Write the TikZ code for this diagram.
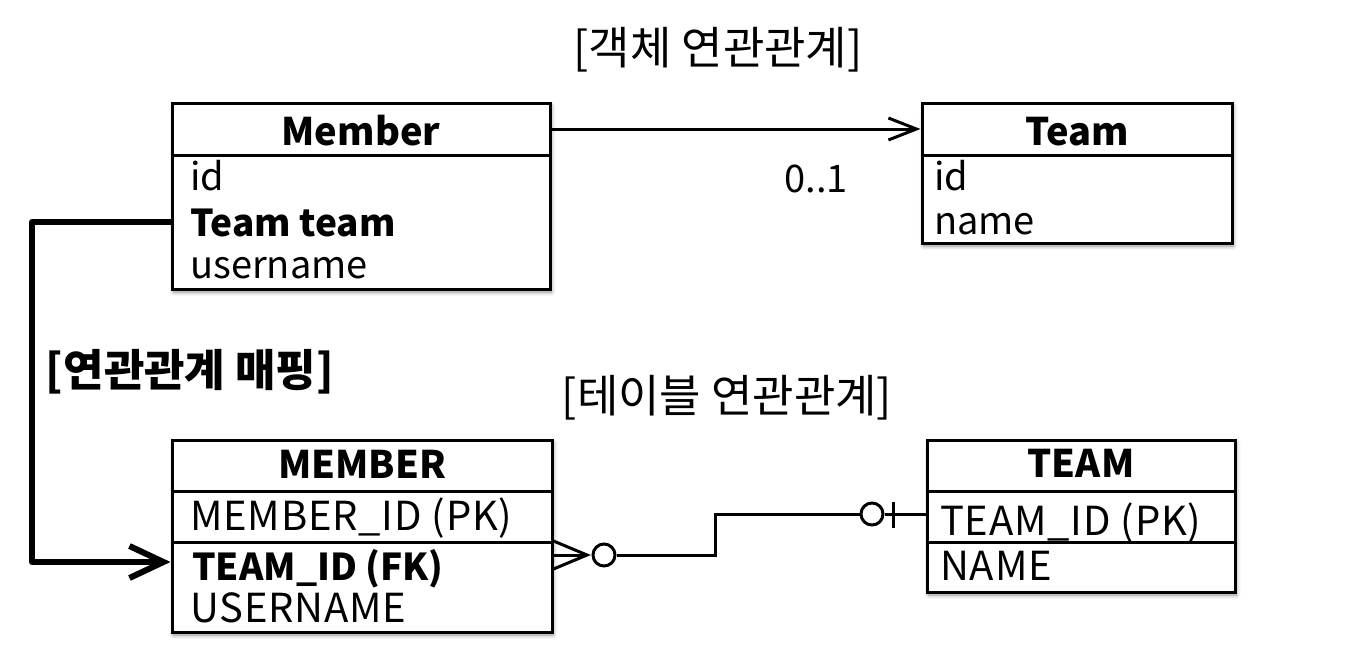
\documentclass[tikz,border=0pt]{standalone}
\usepackage{fontspec}
\setmainfont{Noto Sans CJK KR}
\usetikzlibrary{arrows.meta,shadows.blur}
\tikzset{
  entity/.style={draw, line width=3pt, fill=white, inner sep=0pt,
    blur shadow={shadow xshift=1.5pt, shadow yshift=-3pt, shadow blur radius=4pt, shadow opacity=45}},
  divider/.style={line width=3pt},
  headtext/.style={font=\bfseries\fontsize{38}{38}\selectfont, anchor=base, inner sep=0pt},
  attrtext/.style={font=\fontsize{38}{38}\selectfont, anchor=base west, inner sep=0pt},
  keytext/.style={attrtext, font=\bfseries\fontsize{37}{37}\selectfont},
  coltext/.style={attrtext, font=\addfontfeature{LetterSpace=2}\fontsize{40}{40}\selectfont},
  caption/.style={font=\fontsize{45}{45}\selectfont, inner sep=0pt},
  rel/.style={line width=3pt},
  ringend/.style={circle, draw, line width=3pt, fill=white, minimum size=22pt, inner sep=0pt}
}

\begin{document}
\begin{tikzpicture}[x=1pt, y=-1pt]
		%%%%% START %%%%%
		\useasboundingbox (0,0) rectangle (1345,654);
		
		\node[caption] (objTitle) at (718,50) {[객체 연관관계]};
		\node[caption] (tblTitle) at (727,398) {[테이블 연관관계]};
		\node[caption, font=\bfseries\fontsize{44}{44}\selectfont] (mapTitle) at (190,372) {[연관관계 매핑]};
		
		% object model
		\node[entity, minimum width=378pt, minimum height=186pt] (member) at (361,196) {};
		\draw[divider] (member.west |- 0,155) -- (member.east |- 0,155);
		\node[headtext] (memberHead) at (361,145) {Member};
		\node[attrtext] (memberId) at (190,190) {id};
		\node[keytext] (memberTeam) at (190,236) {Team team};
		\node[attrtext] (memberName) at (190,278) {username};
		
		\node[entity, minimum width=310pt, minimum height=140pt] (team) at (1077,173) {};
		\draw[divider] (team.west |- 0,155) -- (team.east |- 0,155);
		\node[headtext] (teamHead) at (1077,145) {Team};
		\node[attrtext] (teamId) at (934,190) {id};
		\node[attrtext] (teamName) at (934,234) {name};
		
		\draw[rel, -{Straight Barb[length=28pt,width=22pt]}] (member.east |- 0,129) -- (team.west |- 0,129);
		\node[attrtext, anchor=base] (mult) at (816,192) {0..1};
		
		% table model
		\node[entity, minimum width=380pt, minimum height=192pt] (memberTable) at (362,536) {};
		\draw[divider] (memberTable.west |- 0,491) -- (memberTable.east |- 0,491);
		\draw[divider] (memberTable.west |- 0,542) -- (memberTable.east |- 0,542);
		\node[headtext] (memberTableHead) at (362,478) {MEMBER};
		\node[coltext] (memberPk) at (190,530) {MEMBER\_ID (PK)};
		\node[keytext] (memberFk) at (192,580) {TEAM\_ID (FK)};
		\node[coltext] (memberUser) at (190,622) {USERNAME};
		
		\node[entity, minimum width=308pt, minimum height=152pt] (teamTable) at (1081,516) {};
		\draw[divider] (teamTable.west |- 0,491) -- (teamTable.east |- 0,491);
		\draw[divider] (teamTable.west |- 0,542) -- (teamTable.east |- 0,542);
		\node[headtext] (teamTableHead) at (1081,477) {TEAM};
		\node[coltext] (teamPk) at (940,535) {TEAM\_ID (PK)};
		\node[coltext] (teamColName) at (940,580) {NAME};
		
		% crow's foot, zero or many
		\coordinate (fk) at (memberTable.east |- 0,555);
		\coordinate (fkTip) at (587,555);
		\draw[rel] (fk |- 0,541) -- (fkTip) -- (fk |- 0,569);
		\draw[rel] (fk) -- (fkTip);
		\node[ringend] (fkRing) at (604,555) {};
		
		% zero or one
		\coordinate (pk) at (teamTable.west |- 0,514);
		\node[ringend] (pkRing) at (872,514) {};
		\draw[rel] (fkRing) -- (715,555) -- (715,514) -- (pkRing);
		\draw[rel] (pkRing) -- (pk);
		\draw[rel] (893,502) -- (893,528);
		
		% mapping
		\draw[line width=6pt, line join=round, -{Straight Barb[length=34pt,width=32pt]}] (member.west |- 0,222) -- (32,222) -- (32,562) -- (memberTable.west |- 0,562);
		
		%%%%% END %%%%%
\end{tikzpicture}
\end{document}
